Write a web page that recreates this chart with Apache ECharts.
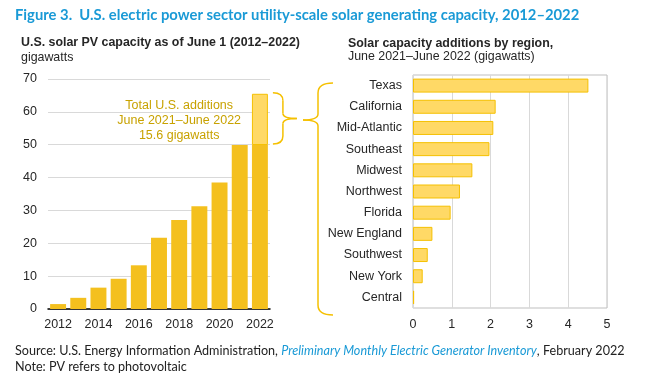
<!DOCTYPE html>
<html>
<head>
<meta charset="utf-8">
<script src="https://cdn.jsdelivr.net/npm/echarts@6/dist/echarts.min.js"></script>
<style>
html,body{margin:0;padding:0;background:#fff;}
#c{width:648px;height:383px;}
</style>
</head>
<body>
<div id="c"></div>
<script>
// ---- data ----
const years = ['2012','2013','2014','2015','2016','2017','2018','2019','2020','2021','2022'];
const capacity = [1.5, 3.4, 6.5, 9.2, 13.3, 21.7, 27.1, 31.3, 38.5, 49.9, 65.5];
const additions2022 = 15.6;
const regions = ['Texas','California','Mid-Atlantic','Southeast','Midwest','Northwest','Florida','New England','Southwest','New York','Central'];
const regionAdds = [4.52, 2.13, 2.07, 1.97, 1.53, 1.21, 0.97, 0.50, 0.38, 0.25, 0.03];
const leftTicks = [0, 10, 20, 30, 40, 50, 60, 70];
const rightTicks = [0, 1, 2, 3, 4, 5];

const baseVals = capacity.map((v, i) => i === capacity.length - 1 ? +(v - additions2022).toFixed(1) : v);
const addVals = capacity.map((v, i) => i === capacity.length - 1 ? additions2022 : '-');

const DARK = '#f4c01e';
const LIGHT = '#ffd966';
const EDGE = '#f5c000';
const ANN = '#c8a200';
const LBL = '#262626';
const FONT = 'Liberation Sans, Arial, sans-serif';

const chart = echarts.init(document.getElementById('c'), null, {renderer: 'canvas'});

const option = {
  animation: false,
  backgroundColor: '#fff',
  textStyle: {fontFamily: FONT},
  title: [
    {text: 'Figure 3.  U.S. electric power sector utility-scale solar generating capacity, 2012\u20132022',
     left: 15, top: 8, padding: 0,
     textStyle: {fontFamily: 'Lato, sans-serif', fontWeight: 'bold', fontSize: 14.8, color: '#1a9ad6'}},
    {text: 'U.S. solar PV capacity as of June 1 (2012\u20132022)', subtext: 'gigawatts',
     left: 21, top: 37, itemGap: 3, padding: 0,
     textStyle: {fontFamily: FONT, fontWeight: 'bold', fontSize: 12.4, color: LBL},
     subtextStyle: {fontFamily: FONT, fontSize: 12.4, color: LBL}},
    {text: 'Solar capacity additions by region,', subtext: 'June 2021\u2013June 2022 (gigawatts)',
     left: 348, top: 38, itemGap: 1, padding: 0,
     textStyle: {fontFamily: FONT, fontWeight: 'bold', fontSize: 12.4, color: LBL},
     subtextStyle: {fontFamily: FONT, fontSize: 12.4, color: LBL}},
    {text: '{n|Source: U.S. Energy Information Administration, }{i|Preliminary Monthly Electric Generator Inventory}{n|, February 2022}\n{n|Note: PV refers to photovoltaic}',
     left: 15, top: 343, padding: 0,
     textStyle: {fontWeight: 'normal', rich: {
       n: {fontFamily: 'Lato, sans-serif', fontSize: 12.6, fontWeight: 'normal', color: '#222', lineHeight: 16},
       i: {fontFamily: 'Lato, sans-serif', fontSize: 12.6, fontWeight: 'normal', fontStyle: 'italic', color: '#1a9ad6', lineHeight: 16}
     }}}
  ],
  grid: [
    {left: 48, right: 378, top: 79, bottom: 74, containLabel: false},
    {left: 413, right: 41, top: 75, bottom: 75, containLabel: false, show: true, borderColor: '#bfbfbf', borderWidth: 1}
  ],
  xAxis: [
    {type: 'category', gridIndex: 0, data: years,
     axisLine: {lineStyle: {color: '#000', width: 1.5}},
     axisTick: {show: false},
     axisLabel: {interval: 1, color: LBL, fontSize: 12.5, margin: 9, fontFamily: FONT}},
    {type: 'value', gridIndex: 1, min: rightTicks[0], max: rightTicks[rightTicks.length - 1], interval: 1,
     axisLine: {show: false}, axisTick: {show: false},
     splitLine: {lineStyle: {color: '#d9d9d9', width: 1}},
     axisLabel: {color: LBL, fontSize: 12.5, margin: 10, fontFamily: FONT}}
  ],
  yAxis: [
    {type: 'value', gridIndex: 0, min: leftTicks[0], max: leftTicks[leftTicks.length - 1], interval: 10,
     axisLine: {show: false}, axisTick: {show: false},
     splitLine: {lineStyle: {color: '#d9d9d9', width: 1}},
     axisLabel: {color: LBL, fontSize: 12.5, margin: 11, fontFamily: FONT}},
    {type: 'category', gridIndex: 1, data: regions, inverse: true,
     axisLine: {show: false}, axisTick: {show: false},
     axisLabel: {color: LBL, fontSize: 12.5, margin: 11, fontFamily: FONT}}
  ],
  series: [
    {type: 'bar', xAxisIndex: 0, yAxisIndex: 0, stack: 'cap', data: baseVals,
     barCategoryGap: '21%', itemStyle: {color: DARK}},
    {type: 'bar', xAxisIndex: 0, yAxisIndex: 0, stack: 'cap', data: addVals,
     itemStyle: {color: LIGHT, borderColor: EDGE, borderWidth: 1}},
    {type: 'bar', xAxisIndex: 1, yAxisIndex: 1, data: regionAdds,
     barCategoryGap: '34%', itemStyle: {color: LIGHT, borderColor: EDGE, borderWidth: 1}}
  ]
};
chart.setOption(option);

// ---- annotations positioned from the axes ----
const last = years.length - 1;
const pTop = chart.convertToPixel({gridIndex: 0}, [years[last], capacity[last]]);
const pBase = chart.convertToPixel({gridIndex: 0}, [years[last], baseVals[last]]);
const annCenter = chart.convertToPixel({gridIndex: 0}, [years[6], 0]);

const braceStyle = {fill: null, stroke: EDGE, lineWidth: 1.5};
function curve(x1, y1, cx, cy, x2, y2) {
  return {type: 'bezierCurve', shape: {x1: x1, y1: y1, cpx1: cx, cpy1: cy, x2: x2, y2: y2}, style: braceStyle};
}
function seg(x1, y1, x2, y2) {
  return {type: 'line', shape: {x1: x1, y1: y1, x2: x2, y2: y2}, style: braceStyle};
}

// small "}" brace beside the 2022 bar
const y1 = pTop[1] - 1, y2 = pBase[1] - 1, ym = (y1 + y2) / 2;
const bx = pTop[0] + 13, bv = bx + 10, bt = bx + 24;
const small = [
  curve(bx, y1, bv, y1, bv, y1 + 8),
  seg(bv, y1 + 8, bv, ym - 5),
  curve(bv, ym - 5, bv, ym, bt, ym),
  curve(bt, ym, bv, ym, bv, ym + 5),
  seg(bv, ym + 5, bv, y2 - 8),
  curve(bv, y2 - 8, bv, y2, bx, y2)
];

// large "{" brace before the region chart
const gTop = 83, gBot = 315, gTip = 120;
const tx = 303, vx = 318, ex = 333;
const big = [
  curve(ex, gTop, vx, gTop, vx, gTop + 10),
  seg(vx, gTop + 10, vx, gTip - 6),
  curve(vx, gTip - 6, vx, gTip, tx, gTip),
  curve(tx, gTip, vx, gTip, vx, gTip + 6),
  seg(vx, gTip + 6, vx, gBot - 10),
  curve(vx, gBot - 10, vx, gBot, ex, gBot)
];

chart.setOption({
  graphic: small.concat(big).concat([
    {type: 'text', x: annCenter[0], y: 98,
     style: {text: 'Total U.S. additions\nJune 2021\u2013June 2022\n' + additions2022 + ' gigawatts',
             fill: ANN, font: '12.5px ' + FONT, align: 'center', lineHeight: 15}}
  ])
});
</script>
</body>
</html>
